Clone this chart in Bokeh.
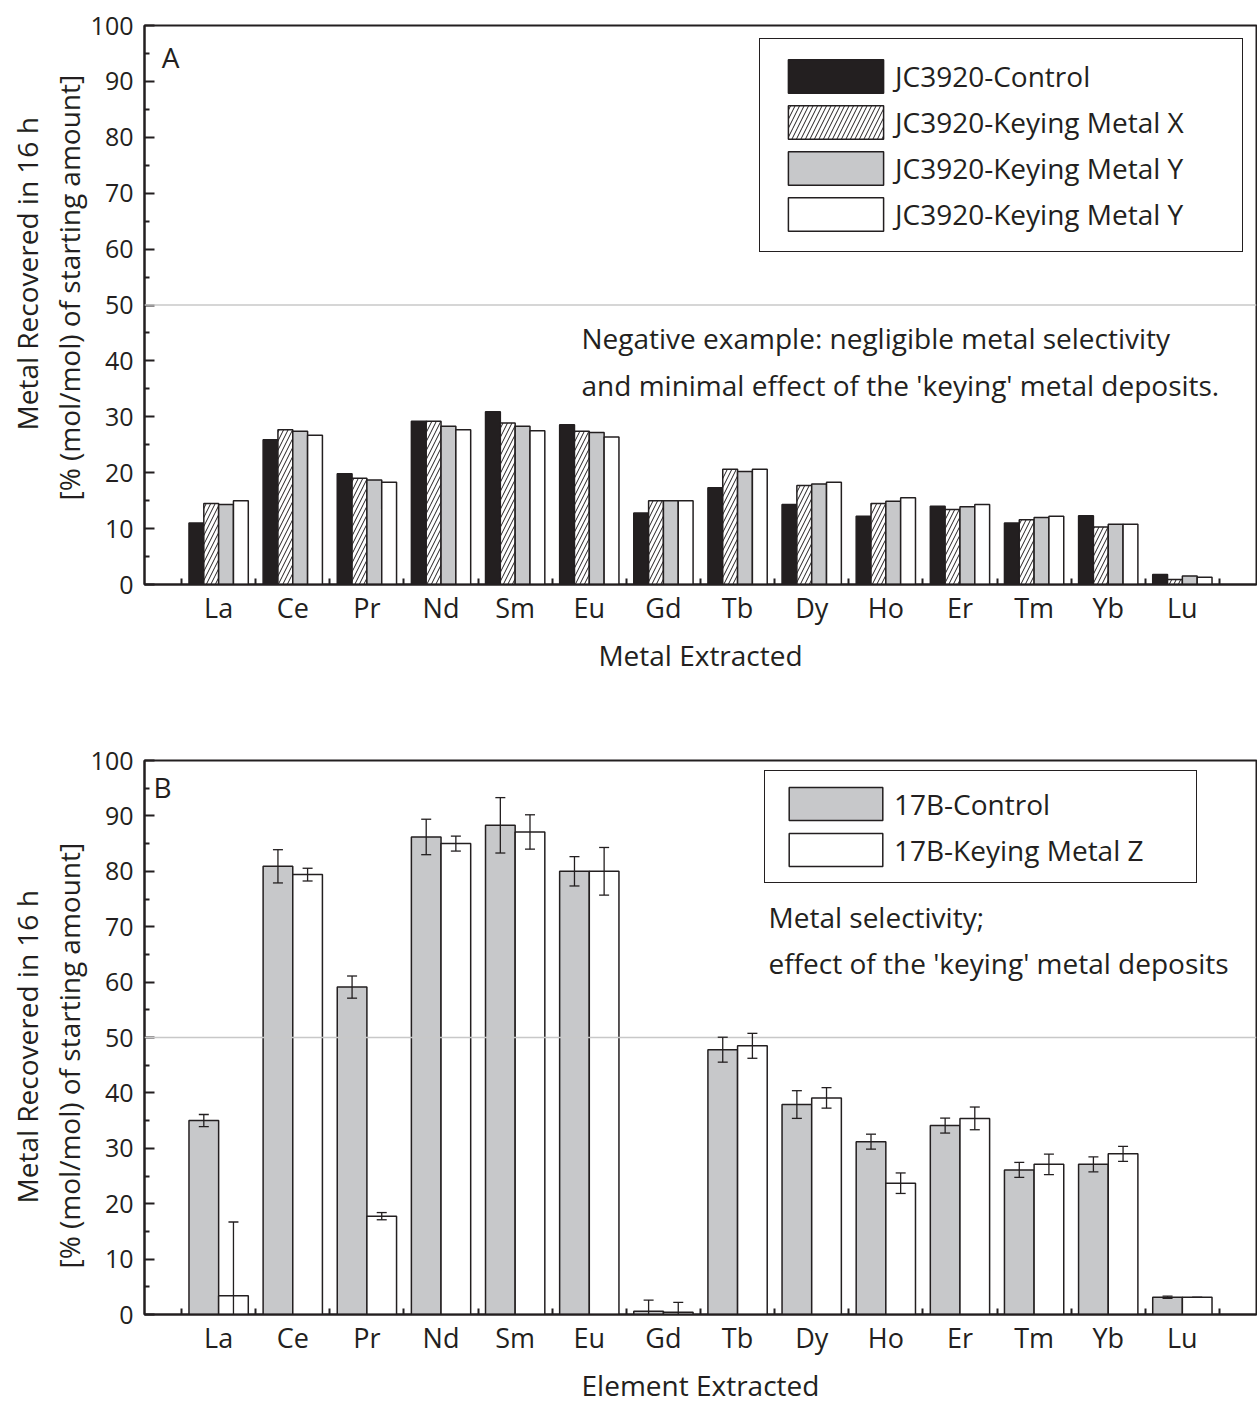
import numpy as np
from bokeh.plotting import figure
from bokeh.models import (ColumnDataSource, Range1d, FixedTicker, Span, Label, Title,
                          Legend, LegendItem, Whisker, TeeHead)
from bokeh.layouts import column
from bokeh.embed import file_html
from bokeh.resources import INLINE

# ---------------- data ----------------
elements = ["La", "Ce", "Pr", "Nd", "Sm", "Eu", "Gd", "Tb", "Dy", "Ho", "Er", "Tm", "Yb", "Lu"]

# Panel A
a_labels = ["JC3920-Control", "JC3920-Keying Metal X", "JC3920-Keying Metal Y", "JC3920-Keying Metal Y"]
a_control = [11.0, 25.9, 19.8, 29.2, 30.9, 28.6, 12.8, 17.3, 14.3, 12.2, 14.0, 11.0, 12.3, 1.8]
a_metal_x = [14.5, 27.7, 19.0, 29.2, 28.9, 27.4, 15.0, 20.6, 17.7, 14.5, 13.4, 11.6, 10.3, 0.9]
a_metal_y = [14.3, 27.4, 18.7, 28.3, 28.3, 27.2, 15.0, 20.2, 18.0, 14.9, 13.9, 12.0, 10.8, 1.5]
a_metal_y2 = [15.0, 26.7, 18.3, 27.7, 27.5, 26.4, 15.0, 20.6, 18.3, 15.5, 14.3, 12.2, 10.8, 1.3]

# Panel B
b_labels = ["17B-Control", "17B-Keying Metal Z"]
b_control = [35.0, 80.9, 59.1, 86.2, 88.3, 80.0, 0.6, 47.8, 37.9, 31.2, 34.1, 26.1, 27.1, 3.1]
b_control_err = [1.1, 3.0, 2.0, 3.2, 5.0, 2.65, 2.0, 2.25, 2.5, 1.35, 1.35, 1.35, 1.35, 0.2]
b_metal_z = [3.4, 79.4, 17.75, 85.0, 87.1, 80.0, 0.4, 48.5, 39.1, 23.7, 35.4, 27.1, 29.0, 3.1]
b_metal_z_err = [13.3, 1.15, 0.65, 1.35, 3.1, 4.3, 1.8, 2.25, 1.85, 1.85, 2.05, 1.85, 1.35, 0.0]

y_ticks = list(range(0, 101, 10))
y_minor = list(range(5, 100, 10))

# ---------------- style ----------------
FONT = "Open Sans"
INK = "#231f20"
GREY = "#c7c8ca"
FS = "28px"

pos = np.arange(1, len(elements) + 1)


def base_fig(height, top, bottom, xlabel, title_offsets):
    p = figure(width=1257, height=height, output_backend="svg", toolbar_location=None,
               x_range=Range1d(0, len(elements) + 1), y_range=Range1d(0, 100),
               min_border_left=144, min_border_right=1,
               min_border_top=top, min_border_bottom=bottom)
    p.grid.visible = False
    p.outline_line_color = INK
    p.outline_line_width = 2
    p.outline_line_alpha = 1
    p.background_fill_color = "white"

    xa = p.xaxis[0]
    xa.ticker = FixedTicker(ticks=[int(v) for v in pos],
                            minor_ticks=[float(v) + 0.5 for v in range(len(elements) + 1)])
    xa.major_label_overrides = {int(v): e for v, e in zip(pos, elements)}
    xa.major_tick_line_color = None
    xa.minor_tick_in = 6
    xa.minor_tick_out = 0
    xa.minor_tick_line_width = 2
    xa.minor_tick_line_color = INK
    xa.axis_line_width = 2
    xa.axis_line_color = INK
    xa.major_label_text_font = FONT
    xa.major_label_text_font_size = "27px"
    xa.major_label_text_color = INK
    xa.major_label_standoff = -2
    xa.axis_label = xlabel
    xa.axis_label_text_font = FONT
    xa.axis_label_text_font_size = FS
    xa.axis_label_text_font_style = "normal"
    xa.axis_label_text_color = INK
    xa.axis_label_standoff = 7

    ya = p.yaxis[0]
    ya.ticker = FixedTicker(ticks=y_ticks, minor_ticks=y_minor)
    ya.major_tick_in = 10
    ya.major_tick_out = 0
    ya.minor_tick_in = 5
    ya.minor_tick_out = 0
    ya.major_tick_line_width = 2
    ya.minor_tick_line_width = 2
    ya.major_tick_line_color = INK
    ya.minor_tick_line_color = INK
    ya.axis_line_width = 2
    ya.axis_line_color = INK
    ya.major_label_text_font = FONT
    ya.major_label_text_font_size = "25px"
    ya.major_label_text_color = INK
    ya.major_label_standoff = 11

    # two-line y axis title (inner line first, outer line second)
    texts = ("[% (mol/mol) of starting amount]", "Metal Recovered in 16 h")
    for txt, so, off in zip(texts, (0, 4), title_offsets):
        p.add_layout(Title(text=txt, align="left", offset=off, standoff=so,
                           text_font=FONT, text_font_size=FS, text_font_style="normal",
                           text_color=INK), "left")

    p.add_layout(Span(location=50, dimension="width", line_color="#c8c8c8", line_width=1.5))
    return p


def note(p, x, y, txt):
    p.add_layout(Label(x=x, y=y, x_units="screen", y_units="screen", text=txt,
                       text_align="left", text_baseline="middle",
                       text_font=FONT, text_font_size=FS, text_color=INK))


# ---------------- panel A ----------------
pa = base_fig(720, 25, 136, "Metal Extracted", (84, 154))
series_a = [a_control, a_metal_x, a_metal_y, a_metal_y2]
offs_a = [-0.3, -0.1, 0.1, 0.3]
styles_a = [dict(fill_color=INK),
            dict(fill_color="white", hatch_pattern="/", hatch_color=INK, hatch_weight=1, hatch_scale=9),
            dict(fill_color=GREY),
            dict(fill_color="white")]
items_a = []
for lab, vals, off, st in zip(a_labels, series_a, offs_a, styles_a):
    src = ColumnDataSource(dict(x=pos + off, top=vals))
    r = pa.vbar(x="x", top="top", width=0.2, bottom=0, source=src,
                line_color=INK, line_width=1.5, **st)
    items_a.append(LegendItem(label=lab, renderers=[r]))

leg_a = Legend(items=items_a, location=(615, 332), glyph_width=119, glyph_height=42,
               label_height=36, label_standoff=0, spacing=4, padding=16, margin=0,
               label_width=331, label_text_font=FONT, label_text_font_size=FS,
               label_text_color=INK, label_text_baseline="middle",
               border_line_color=INK, border_line_width=1.5, border_line_alpha=1,
               background_fill_alpha=1)
pa.add_layout(leg_a)
note(pa, 437, 247, "Negative example: negligible metal selectivity")
note(pa, 437, 200, "and minimal effect of the 'keying' metal deposits.")
pa.add_layout(Label(x=26, y=528, x_units="screen", y_units="screen", text="A",
                    text_align="center", text_baseline="middle",
                    text_font=FONT, text_font_size=FS, text_color=INK))

# ---------------- panel B ----------------
pb = base_fig(686, 40, 90, "Element Extracted", (46, 111))
series_b = [(b_control, b_control_err), (b_metal_z, b_metal_z_err)]
offs_b = [-0.2, 0.2]
fills_b = [GREY, "white"]
items_b = []
for lab, (vals, errs), off, fc in zip(b_labels, series_b, offs_b, fills_b):
    v = np.array(vals)
    e = np.array(errs)
    src = ColumnDataSource(dict(x=pos + off, top=v, upper=v + e, lower=v - e))
    r = pb.vbar(x="x", top="top", width=0.4, bottom=0, source=src,
                fill_color=fc, line_color=INK, line_width=1.5)
    items_b.append(LegendItem(label=lab, renderers=[r]))
    w = Whisker(source=src, base="x", upper="upper", lower="lower",
                line_color=INK, line_width=1.3, level="overlay",
                upper_head=TeeHead(size=10, line_color=INK, line_width=1.3),
                lower_head=TeeHead(size=10, line_color=INK, line_width=1.3))
    pb.add_layout(w)

leg_b = Legend(items=items_b, location=(620, 431), glyph_width=117, glyph_height=41,
               label_height=36, label_standoff=0, spacing=5, padding=12, margin=0,
               label_width=290, label_text_font=FONT, label_text_font_size=FS,
               label_text_color=INK, label_text_baseline="middle",
               border_line_color=INK, border_line_width=1.5, border_line_alpha=1,
               background_fill_alpha=1)
pb.add_layout(leg_b)
note(pb, 624, 398, "Metal selectivity;")
note(pb, 624, 352, "effect of the 'keying' metal deposits")
pb.add_layout(Label(x=18, y=528, x_units="screen", y_units="screen", text="B",
                    text_align="center", text_baseline="middle",
                    text_font=FONT, text_font_size=FS, text_color=INK))

layout = column(pa, pb, spacing=0)
open("out.html", "w").write(file_html(layout, INLINE))
